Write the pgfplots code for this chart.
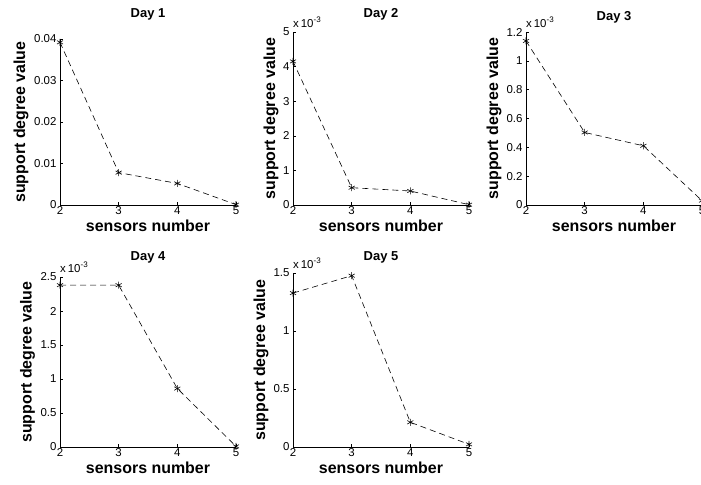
\documentclass[border=0pt]{standalone}
\usepackage{fontspec}
\setmainfont{Liberation Sans}
\usepackage{pgfplots}
\pgfplotsset{compat=1.18}
\pgfplotsset{
  sub/.style={
    scale only axis, width=176bp,
    anchor=south west,
    axis x line*=bottom, axis y line*=left,
    axis line style={-, black, line width=0.8pt},
    xmin=2, xmax=5, xtick={2,3,4,5}, ymin=0,
    tick align=inside, major tick length=3bp,
    tick style={black, line width=0.5pt},
    ticklabel style={font=\fontsize{11.5}{12}\selectfont},
    xticklabel style={inner sep=1bp},
    /pgf/number format/assume math mode=true,
    scaled y ticks=false,
    xlabel={sensors number}, ylabel={support degree value},
    label style={font=\bfseries\fontsize{16}{17}\selectfont},
    xlabel style={at={(rel axis cs:0.5,0)}, anchor=center, yshift=-21bp},
    title style={font=\bfseries\fontsize{13}{14}\selectfont, at={(rel axis cs:0.5,1)}, anchor=center},
    clip=false,
  },
  ser/.style={black, line width=0.6pt, dash pattern=on 6bp off 4bp, mark=asterisk, mark size=3.5bp, mark options={solid, line width=0.6pt}},
}
\newcommand{\tenexp}{\node[anchor=base west, inner sep=0pt, font=\fontsize{11.5}{12}\selectfont] at (rel axis cs:0,1) [yshift=5bp] {x\,10\textsuperscript{-3}};}
\begin{document}
\begin{tikzpicture}
% Day 1
\begin{axis}[sub, at={(60bp,-205bp)}, height=166bp, ymax=0.04,
  ytick={0,0.01,0.02,0.03,0.04}, yticklabels={0,0.01,0.02,0.03,0.04},
  ylabel style={at={(rel axis cs:0,0.5)}, anchor=center, yshift=39bp},
  title={Day 1}, title style={yshift=19bp}]
\addplot[ser] coordinates {(2,0.0392) (3,0.0078) (4,0.0052) (5,0.0001)};
\end{axis}
% Day 2
\begin{axis}[sub, at={(293bp,-205bp)}, height=173bp, ymax=5,
  ytick={0,1,2,3,4,5}, yticklabels={0,1,2,3,4,5},
  ylabel style={at={(rel axis cs:0,0.5)}, anchor=center, yshift=22bp},
  title={Day 2}, title style={yshift=12bp}]
\addplot[ser] coordinates {(2,4.15) (3,0.50) (4,0.405) (5,0.01)};
\tenexp
\end{axis}
% Day 3
\begin{axis}[sub, at={(526bp,-205bp)}, height=173bp, ymax=1.2,
  ytick={0,0.2,0.4,0.6,0.8,1,1.2}, yticklabels={0,0.2,0.4,0.6,0.8,1,1.2},
  ylabel style={at={(rel axis cs:0,0.5)}, anchor=center, yshift=32bp},
  title={Day 3}, title style={yshift=9bp}]
\addplot[ser] coordinates {(2,1.138) (3,0.503) (4,0.411) (5,0.03)};
\tenexp
\end{axis}
% Day 4
\begin{axis}[sub, at={(60bp,-447bp)}, height=170bp, ymax=2.5,
  ytick={0,0.5,1,1.5,2,2.5}, yticklabels={0,0.5,1,1.5,2,2.5},
  ylabel style={at={(rel axis cs:0,0.5)}, anchor=center, yshift=32.5bp},
  title={Day 4}, title style={yshift=14bp}]
\addplot[ser] coordinates {(2,2.38) (3,2.38) (4,0.86) (5,0.01)};
\tenexp
\end{axis}
% Day 5
\begin{axis}[sub, at={(293bp,-447bp)}, height=174bp, ymax=1.5,
  ytick={0,0.5,1,1.5}, yticklabels={0,0.5,1,1.5},
  ylabel style={at={(rel axis cs:0,0.5)}, anchor=center, yshift=32bp},
  title={Day 5}, title style={yshift=10bp}]
\addplot[ser] coordinates {(2,1.327) (3,1.477) (4,0.213) (5,0.023)};
\tenexp
\end{axis}
\pgfresetboundingbox
\path[use as bounding box] (0,0) rectangle (701bp,-485bp);
\end{tikzpicture}
\end{document}
